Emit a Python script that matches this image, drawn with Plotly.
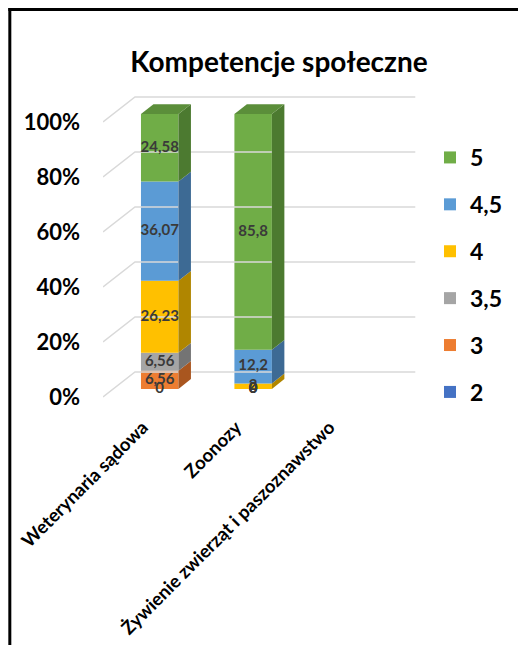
import plotly.graph_objects as go

# ---------------- data ----------------
categories = ["Weterynaria sądowa", "Zoonozy", "Żywienie zwierząt i paszoznawstwo"]
series_names = ["2", "3", "3,5", "4", "4,5", "5"]
s_2 = [0, 0, None]
s_3 = [6.56, 0, None]
s_35 = [6.56, 0, None]
s_4 = [26.23, 2, None]
s_45 = [36.07, 12.2, None]
s_5 = [24.58, 85.8, None]
y_ticks = [0, 20, 40, 60, 80, 100]
y_tick_labels = ["0%", "20%", "40%", "60%", "80%", "100%"]

series_values = [s_2, s_3, s_35, s_4, s_45, s_5]
front_colors = ["#4472C4", "#ED7D31", "#A5A5A5", "#FFC000", "#5B9BD5", "#70AD47"]
side_colors = ["#2F5597", "#A9561F", "#747474", "#B08600", "#3D6A94", "#4C7A30"]
top_colors = ["#3A62A8", "#C86A28", "#8C8C8C", "#D9A300", "#4D83B5", "#5B8E3A"]

# ---------------- geometry ----------------
OFF = 8                      # default page body margin
W, H = 526 - 2 * OFF, 653 - 2 * OFF
px_per_x = 93.5
px_per_y = 2.75
x_range = [-0.5, 2.85]
y_range = [-5.5, 112]
front_left_px = 102.75 - OFF          # x pixel of front plane left edge
y100_px = 122 - OFF                   # y pixel of 100% on front plane
m_l = front_left_px
m_t = y100_px - (y_range[1] - 100) * px_per_y
plot_w = (x_range[1] - x_range[0]) * px_per_x
plot_h = (y_range[1] - y_range[0]) * px_per_y
m_r = W - m_l - plot_w
m_b = H - m_t - plot_h

wall_dx, wall_dy = 32 / px_per_x, 25 / px_per_y      # full depth of the 3D box
bar_off_dx, bar_off_dy = 10 / px_per_x, 8 / px_per_y  # bar front offset from front plane
bar_dx, bar_dy = 12.5 / px_per_x, 9.8 / px_per_y     # bar depth
bar_w = 37.5 / px_per_x

fig = go.Figure()

# gridlines (front-left -> back-left -> back-right)
for v in y_ticks:
    fig.add_trace(go.Scatter(
        x=[x_range[0], x_range[0] + wall_dx, 2.5 + wall_dx],
        y=[v, v + wall_dy, v + wall_dy],
        mode="lines", line=dict(color="#D9D9D9", width=1.5),
        hoverinfo="skip", showlegend=False))

xs = list(range(len(categories)))
bases = [0.0] * len(categories)
label_x, label_y, label_t = [], [], []
tops = [None] * len(categories)
n_series = len(series_names)

for si, (name, vals) in enumerate(zip(series_names, series_values)):
    b_vals, b_base, b_x = [], [], []
    for ci, v in enumerate(vals):
        if v is None:
            continue
        base = bases[ci]
        b_vals.append(v)
        b_base.append(base + bar_off_dy)
        b_x.append(xs[ci] + bar_off_dx)
        xr = xs[ci] + bar_off_dx + bar_w / 2
        if v > 0:
            y0 = base + bar_off_dy
            y1 = base + v + bar_off_dy
            fig.add_trace(go.Scatter(
                x=[xr, xr + bar_dx, xr + bar_dx, xr, xr],
                y=[y0, y0 + bar_dy, y1 + bar_dy, y1, y0],
                mode="lines", fill="toself", fillcolor=side_colors[si],
                line=dict(width=0, color=side_colors[si]),
                hoverinfo="skip", showlegend=False))
            tops[ci] = (si, y1)
        label_x.append(xs[ci] + bar_off_dx)
        label_y.append(base + v / 2 + bar_off_dy)
        label_t.append(f"{v:g}".replace(".", ","))
        bases[ci] = base + v
    fig.add_trace(go.Bar(
        x=b_x, y=b_vals, base=b_base, width=bar_w, name=name,
        marker=dict(color=front_colors[si], line=dict(width=0)),
        legendgroup=name, legendrank=n_series - si, hoverinfo="skip"))

# top faces
for ci, t in enumerate(tops):
    if t is None:
        continue
    si, yt = t
    xl = xs[ci] + bar_off_dx - bar_w / 2
    xr = xs[ci] + bar_off_dx + bar_w / 2
    fig.add_trace(go.Scatter(
        x=[xl, xl + bar_dx, xr + bar_dx, xr, xl],
        y=[yt, yt + bar_dy, yt + bar_dy, yt, yt],
        mode="lines", fill="toself", fillcolor=top_colors[si],
        line=dict(width=0, color=top_colors[si]),
        hoverinfo="skip", showlegend=False))

# data labels
fig.add_trace(go.Scatter(
    x=label_x, y=label_y, text=label_t, mode="text",
    textfont=dict(family="Lato", size=15, color="#3A3A3A", weight="bold"),
    cliponaxis=False, hoverinfo="skip", showlegend=False))

# frame (left and top edges), in figure pixels converted to paper coords
bx = 1.5
by = 1.5
fig.update_layout(
    width=W, height=H,
    margin=dict(l=m_l, r=m_r, t=m_t, b=m_b, pad=0, autoexpand=False),
    paper_bgcolor="white", plot_bgcolor="white",
    barmode="overlay",
    font=dict(family="Lato", color="black"),
    title=dict(text="<b>Kompetencje społeczne</b>", x=(279 - OFF) / W, xanchor="center",
               y=1 - (62 - OFF) / H, yanchor="middle", yref="container",
               font=dict(family="Lato", size=28, color="black")),
    xaxis=dict(range=x_range, tickvals=xs, ticktext=categories, tickangle=-45,
               showgrid=False, zeroline=False, showline=False, ticks="",
               automargin=False, ticklabelshift=-7,
               tickfont=dict(family="Lato", size=18.5, color="black", weight="bold")),
    yaxis=dict(range=y_range, tickvals=y_ticks, ticktext=y_tick_labels,
               showgrid=False, zeroline=False, showline=False, ticks="",
               automargin=False, ticklabelstandoff=22,
               tickfont=dict(family="Lato", size=22, color="black", weight="bold")),
    legend=dict(x=(430 - OFF - m_l) / plot_w, xanchor="left",
                y=1 - (136 - OFF - m_t) / plot_h,
                yanchor="top", traceorder="grouped", tracegroupgap=14,
                font=dict(family="Lato", size=23, color="black", weight="bold"),
                bgcolor="rgba(0,0,0,0)", itemwidth=30),
    shapes=[
        dict(type="line", xref="paper", yref="paper",
             x0=(bx - m_l) / plot_w, x1=(bx - m_l) / plot_w,
             y0=1 + (m_t - 0) / plot_h, y1=-(m_b + 5) / plot_h,
             line=dict(color="black", width=3)),
        dict(type="line", xref="paper", yref="paper",
             x0=(0 - m_l) / plot_w, x1=(W + 5 - m_l) / plot_w,
             y0=1 + (m_t - by) / plot_h, y1=1 + (m_t - by) / plot_h,
             line=dict(color="black", width=3)),
    ],
)

fig.write_html("out.html")
